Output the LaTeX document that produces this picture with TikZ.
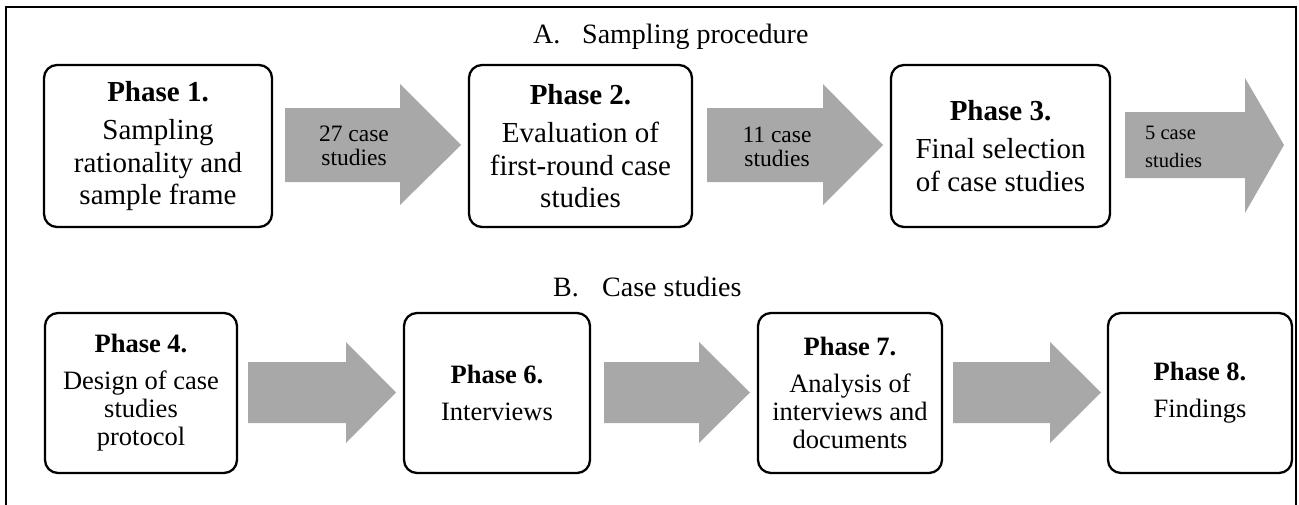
\documentclass[tikz,border=0pt]{standalone}
\usepackage{fontspec}
\setmainfont{Liberation Serif}
\usepackage{tikz}

\definecolor{arrowgrey}{RGB}{168,168,168}

\begin{document}
\begin{tikzpicture}[x=1pt, y=-1pt,
        phase/.style={draw=black, line width=2.3pt, rounded corners=13pt, fill=white, align=center, inner sep=0pt},
        toprow/.style={phase, minimum height=162, font=\fontsize{29}{32.5}\selectfont},
        botrow/.style={phase, minimum height=160, font=\fontsize{26.5}{28}\selectfont},
        bigarrow/.style={fill=arrowgrey},
        arrowtext/.style={align=center, inner sep=0pt, font=\fontsize{23.5}{24}\selectfont},
        heading/.style={anchor=base west, inner sep=0pt, font=\fontsize{28}{32}\selectfont}]
                \useasboundingbox (0,0) rectangle (1299,504);
                \clip (0,0) rectangle (1299,504);
                \draw[line width=2.2pt] (6,515) -- (6,7) -- (1296,7) -- (1296,515);

                \node[heading] (tA) at (533,43) {A.};
                \node[heading] (tAtext) at (582,43) {Sampling procedure};

                \node[toprow, minimum width=228] (p1) at (158,146) {\textbf{Phase 1.}\\[6pt]Sampling\\rationality and\\sample frame};
                \node[toprow, minimum width=223] (p2) at (580.5,146) {\textbf{Phase 2.}\\[6pt]Evaluation of\\first-round case\\studies};
                \node[toprow, minimum width=219] (p3) at (1000.5,146) {\textbf{Phase 3.}\\[6pt]Final selection\\of case studies};

                \fill[bigarrow] (285,108) -- (400,108) -- (400,84) -- (461,145) -- (400,205) -- (400,182) -- (285,182) -- cycle;
                \fill[bigarrow] (707,108) -- (823,108) -- (823,84) -- (883,145) -- (823,205) -- (823,182) -- (707,182) -- cycle;
                \fill[bigarrow] (1125,112) -- (1245,112) -- (1245,78) -- (1284,145) -- (1245,213) -- (1245,178) -- (1125,178) -- cycle;

                \node[arrowtext] (n27) at (354,146) {27 case\\studies};
                \node[arrowtext] (n11) at (777,147) {11 case\\studies};
                \node[arrowtext, anchor=west, align=left, font=\fontsize{20.5}{28}\selectfont] (n5) at (1145,147) {5 case\\studies};

                \node[heading] (tB) at (553,296) {B.};
                \node[heading] (tBtext) at (602,296) {Case studies};

                \node[botrow, minimum width=192] (p4) at (141,393) {\textbf{Phase 4.}\\[9pt]Design of case\\studies\\protocol};
                \node[botrow, minimum width=186] (p6) at (497,393) {\textbf{Phase 6.}\\[9pt]Interviews};
                \node[botrow, minimum width=184] (p7) at (850,393) {\textbf{Phase 7.}\\[9pt]Analysis of\\interviews and\\documents};
                \node[botrow, minimum width=184] (p8) at (1200,393) {\textbf{Phase 8.}\\[9pt]Findings};

                \fill[bigarrow] (248,362) -- (346,362) -- (346,342) -- (396,392.5) -- (346,443) -- (346,423) -- (248,423) -- cycle;
                \fill[bigarrow] (604,362) -- (699,362) -- (699,342) -- (750,392.5) -- (699,443) -- (699,423) -- (604,423) -- cycle;
                \fill[bigarrow] (953,362) -- (1050,362) -- (1050,342) -- (1101,392.5) -- (1050,443) -- (1050,423) -- (953,423) -- cycle;
            \end{tikzpicture}
\end{document}
